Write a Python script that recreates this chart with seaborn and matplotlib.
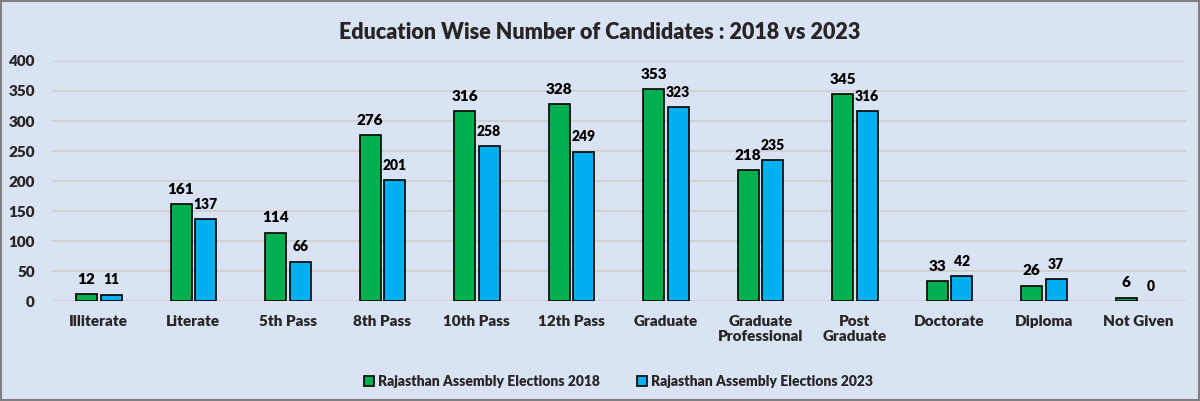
import numpy as np
import pandas as pd
import matplotlib
matplotlib.use("Agg")
import matplotlib.pyplot as plt
import seaborn as sns
from matplotlib.patches import Rectangle

# Data
categories = ["Illiterate", "Literate", "5th Pass", "8th Pass", "10th Pass", "12th Pass",
              "Graduate", "Graduate\nProfessional", "Post\nGraduate", "Doctorate",
              "Diploma", "Not Given"]
values_2018 = [12, 161, 114, 276, 316, 328, 353, 218, 345, 33, 26, 6]
values_2023 = [11, 137, 66, 201, 258, 249, 323, 235, 316, 42, 37, 0]
series_names = ["Rajasthan Assembly Elections 2018", "Rajasthan Assembly Elections 2023"]
yticks = [0, 50, 100, 150, 200, 250, 300, 350, 400]

df = pd.DataFrame({
    "Education": categories * 2,
    "Candidates": values_2018 + values_2023,
    "Election": [series_names[0]] * len(categories) + [series_names[1]] * len(categories),
})

bg = "#DAE3F3"
W = "heavy"
sns.set_theme(style="white")
plt.rcParams['font.family'] = ['Lato', 'DejaVu Sans']
plt.rcParams['font.weight'] = W

fig = plt.figure(figsize=(12, 4.01), dpi=100, facecolor=bg)
ax = fig.add_axes([0.043, 0.249, 0.945, 0.599])
ax.set_facecolor(bg)

sns.barplot(data=df, x="Education", y="Candidates", hue="Election",
            palette=["#00B050", "#00B0F0"], saturation=1, width=0.52, gap=0.15,
            edgecolor="black", linewidth=1.2, ax=ax)

# value labels; hide outline of zero-height bars
for i, cont in enumerate(ax.containers):
    ax.bar_label(cont, padding=6, fontsize=11 if i == 0 else 10, fontweight=W,
                 color="black")
    for p in cont:
        if p.get_height() == 0:
            p.set_linewidth(0)

ax.set_ylim(0, 400)
ax.set_yticks(yticks)
ax.set_xlim(-0.5, len(categories) - 0.5)
ax.yaxis.grid(True, color="#D0D0D0", linewidth=1.3)
ax.set_axisbelow(True)
for s in ax.spines.values():
    s.set_visible(False)
ax.tick_params(axis="y", length=0, pad=12, labelsize=11)
ax.tick_params(axis="x", length=0, pad=10, labelsize=11)
plt.setp(ax.get_xticklabels(), fontweight=W)
plt.setp(ax.get_yticklabels(), fontweight=W)
ax.set_xlabel("")
ax.set_ylabel("")

ax.legend(loc="upper center", bbox_to_anchor=(0.5, -0.255), ncol=2, frameon=False,
          handlelength=0.7, handleheight=0.7, handletextpad=0.3,
          columnspacing=2.7, prop={"weight": W, "size": 10})

fig.suptitle("Education Wise Number of Candidates : 2018 vs 2023", y=0.945,
             fontsize=15.5, fontweight=W)

fig.patches.append(Rectangle((0.001, 0.002), 0.998, 0.996, transform=fig.transFigure,
                             fill=False, edgecolor="#7F7F7F", linewidth=1.5))

fig.savefig("out.png", dpi=100, facecolor=bg)
